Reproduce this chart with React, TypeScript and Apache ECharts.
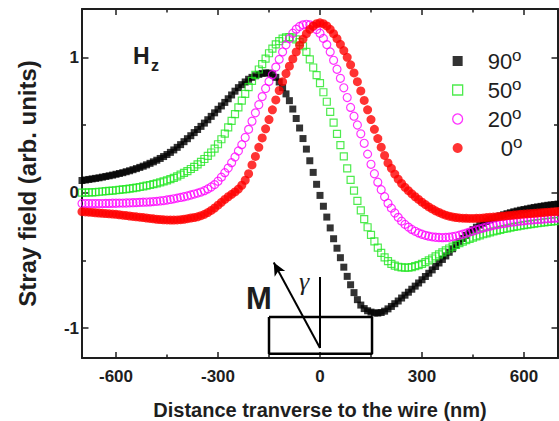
import React, { useEffect, useRef } from 'react';
import * as echarts from 'echarts';

// x grid of the measurements: -700 nm .. 700 nm, one point every 10 nm
const X_START = -700;
const X_STEP = 10;

const BLACK_90 = [
  0.090, 0.094, 0.098, 0.102, 0.106, 0.110, 0.115, 0.120, 0.125, 0.130,
  0.136, 0.142, 0.148, 0.155, 0.162, 0.170, 0.178, 0.187, 0.196, 0.206,
  0.217, 0.228, 0.240, 0.253, 0.267, 0.282, 0.298, 0.316, 0.335, 0.355,
  0.377, 0.399, 0.421, 0.444, 0.467, 0.490, 0.514, 0.539, 0.564, 0.590,
  0.616, 0.641, 0.667, 0.694, 0.722, 0.750, 0.776, 0.798, 0.818, 0.838,
  0.852, 0.864, 0.874, 0.881, 0.885, 0.884, 0.875, 0.852, 0.818, 0.776,
  0.730, 0.680, 0.618, 0.548, 0.478, 0.400, 0.322, 0.236, 0.150, 0.062,
  -0.020, -0.100, -0.180, -0.260, -0.340, -0.410, -0.480, -0.550, -0.618, -0.680,
  -0.738, -0.790, -0.830, -0.856, -0.872, -0.882, -0.888, -0.889, -0.885, -0.875,
  -0.858, -0.840, -0.820, -0.800, -0.778, -0.757, -0.735, -0.713, -0.690, -0.667,
  -0.643, -0.619, -0.595, -0.570, -0.545, -0.519, -0.493, -0.467, -0.440, -0.414,
  -0.388, -0.363, -0.338, -0.315, -0.293, -0.273, -0.255, -0.239, -0.225, -0.212,
  -0.200, -0.190, -0.180, -0.171, -0.163, -0.155, -0.148, -0.141, -0.135, -0.129,
  -0.124, -0.119, -0.114, -0.109, -0.105, -0.101, -0.097, -0.093, -0.090, -0.087,
  -0.084,
];

const GREEN_50 = [
  0.000, 0.001, 0.002, 0.003, 0.005, 0.007, 0.009, 0.011, 0.013, 0.015,
  0.018, 0.021, 0.024, 0.027, 0.030, 0.034, 0.038, 0.042, 0.047, 0.052,
  0.057, 0.063, 0.069, 0.076, 0.083, 0.091, 0.100, 0.110, 0.121, 0.133,
  0.146, 0.160, 0.175, 0.191, 0.209, 0.228, 0.249, 0.272, 0.297, 0.325,
  0.358, 0.395, 0.437, 0.482, 0.530, 0.580, 0.630, 0.680, 0.730, 0.780,
  0.826, 0.870, 0.910, 0.950, 0.990, 1.030, 1.065, 1.095, 1.120, 1.138,
  1.148, 1.150, 1.145, 1.133, 1.112, 1.082, 1.040, 0.985, 0.925, 0.868,
  0.810, 0.742, 0.672, 0.597, 0.517, 0.435, 0.352, 0.268, 0.180, 0.095,
  0.015, -0.060, -0.130, -0.195, -0.255, -0.312, -0.360, -0.405, -0.445, -0.478,
  -0.505, -0.525, -0.538, -0.547, -0.552, -0.554, -0.553, -0.549, -0.543, -0.535,
  -0.525, -0.513, -0.500, -0.486, -0.471, -0.456, -0.441, -0.426, -0.412, -0.398,
  -0.385, -0.373, -0.362, -0.351, -0.341, -0.332, -0.323, -0.315, -0.307, -0.300,
  -0.293, -0.286, -0.280, -0.274, -0.268, -0.263, -0.258, -0.253, -0.248, -0.244,
  -0.240, -0.236, -0.232, -0.228, -0.225, -0.222, -0.219, -0.216, -0.213, -0.210,
  -0.207,
];

const MAGENTA_20 = [
  -0.080, -0.080, -0.080, -0.080, -0.080, -0.080, -0.080, -0.079, -0.079, -0.078,
  -0.078, -0.077, -0.077, -0.076, -0.075, -0.074, -0.073, -0.071, -0.070, -0.069,
  -0.068, -0.066, -0.064, -0.061, -0.058, -0.054, -0.050, -0.045, -0.040, -0.035,
  -0.030, -0.024, -0.017, -0.010, -0.003, 0.005, 0.015, 0.028, 0.042, 0.060,
  0.085, 0.115, 0.148, 0.182, 0.222, 0.264, 0.308, 0.355, 0.408, 0.468,
  0.528, 0.590, 0.650, 0.710, 0.770, 0.822, 0.872, 0.928, 0.985, 1.040,
  1.092, 1.138, 1.178, 1.208, 1.228, 1.240, 1.244, 1.240, 1.228, 1.206,
  1.178, 1.140, 1.094, 1.040, 0.978, 0.912, 0.845, 0.775, 0.703, 0.630,
  0.565, 0.500, 0.435, 0.365, 0.285, 0.210, 0.140, 0.078, 0.022, -0.030,
  -0.078, -0.114, -0.150, -0.182, -0.210, -0.234, -0.254, -0.271, -0.285, -0.297,
  -0.307, -0.315, -0.321, -0.326, -0.329, -0.331, -0.332, -0.331, -0.329, -0.325,
  -0.320, -0.314, -0.307, -0.299, -0.291, -0.283, -0.275, -0.267, -0.260, -0.253,
  -0.247, -0.241, -0.236, -0.231, -0.227, -0.223, -0.219, -0.216, -0.213, -0.210,
  -0.207, -0.204, -0.202, -0.200, -0.198, -0.196, -0.194, -0.192, -0.190, -0.188,
  -0.186,
];

const RED_0 = [
  -0.140, -0.142, -0.144, -0.146, -0.148, -0.150, -0.152, -0.154, -0.156, -0.158,
  -0.160, -0.163, -0.166, -0.169, -0.172, -0.175, -0.178, -0.181, -0.184, -0.187,
  -0.190, -0.193, -0.196, -0.198, -0.200, -0.201, -0.202, -0.202, -0.201, -0.199,
  -0.196, -0.192, -0.187, -0.183, -0.178, -0.170, -0.160, -0.147, -0.131, -0.113,
  -0.092, -0.071, -0.050, -0.030, -0.012, 0.006, 0.027, 0.055, 0.092, 0.140,
  0.205, 0.268, 0.335, 0.405, 0.472, 0.540, 0.612, 0.685, 0.755, 0.820,
  0.880, 0.935, 0.988, 1.040, 1.090, 1.135, 1.175, 1.207, 1.232, 1.248,
  1.255, 1.248, 1.232, 1.207, 1.175, 1.138, 1.096, 1.050, 1.000, 0.945,
  0.885, 0.820, 0.752, 0.682, 0.612, 0.540, 0.468, 0.400, 0.336, 0.275,
  0.220, 0.180, 0.138, 0.100, 0.068, 0.040, 0.015, -0.008, -0.030, -0.050,
  -0.070, -0.088, -0.105, -0.120, -0.134, -0.146, -0.157, -0.166, -0.173, -0.179,
  -0.183, -0.186, -0.188, -0.189, -0.190, -0.190, -0.189, -0.188, -0.186, -0.184,
  -0.182, -0.180, -0.178, -0.175, -0.173, -0.170, -0.168, -0.165, -0.163, -0.160,
  -0.158, -0.156, -0.154, -0.152, -0.150, -0.148, -0.146, -0.144, -0.142, -0.140,
  -0.138,
];

const SERIES_NAMES = ['90°', '50°', '20°', '0°'];

const X_RANGE = [-700, 700];
const Y_RANGE = [-1.221, 1.357];
const X_MAJOR = [-600, -300, 0, 300, 600];
const X_MINOR = [-450, -150, 150, 450];
const Y_MAJOR = [-1, 0, 1];
const Y_MINOR = [-0.5, 0.5];

// sketch of the wire cross-section and the magnetisation, in data units
const WIRE_BOX = [[-150, -0.918], [153, -0.918], [153, -1.19], [-150, -1.19], [-150, -0.918]];
const M_AXIS = [[0, -0.622], [0, -1.147]];
const M_ARROW = [[0, -1.147], [-136, -0.515]];

const FONT = '"Liberation Sans", Arial, Helvetica, sans-serif';
const INK = '#1e1e1e';

const toPairs = (vals: number[]) => vals.map((v, i) => [X_START + i * X_STEP, v]);

function xAxisDef(position: 'bottom' | 'top', values: number[], major: boolean, withLabels: boolean): any {
  return {
    type: 'value',
    min: X_RANGE[0],
    max: X_RANGE[1],
    position,
    axisLine: { show: major, onZero: false, lineStyle: { color: INK, width: 2 } },
    axisTick: { show: true, inside: true, length: major ? 6 : 3.5, customValues: values, lineStyle: { color: INK, width: 1.5 } },
    axisLabel: withLabels
      ? { show: true, customValues: values, fontSize: 17, fontWeight: 'bold', color: INK, fontFamily: FONT, margin: 10 }
      : { show: false },
    splitLine: { show: false },
  };
}

function yAxisDef(position: 'left' | 'right', values: number[], major: boolean, withLabels: boolean): any {
  return {
    type: 'value',
    min: Y_RANGE[0],
    max: Y_RANGE[1],
    position,
    axisLine: { show: major, onZero: false, lineStyle: { color: INK, width: 2 } },
    axisTick: { show: true, inside: true, length: major ? 6.5 : 4, customValues: values, lineStyle: { color: INK, width: 1.5 } },
    axisLabel: withLabels
      ? { show: true, customValues: values, fontSize: 17, fontWeight: 'bold', color: INK, fontFamily: FONT, margin: 3 }
      : { show: false },
    splitLine: { show: false },
  };
}

export default function App() {
  const ref = useRef<HTMLDivElement>(null);

  useEffect(() => {
    if (!ref.current) return;
    const chart = echarts.init(ref.current, null, { renderer: 'svg' });

    const xMain = xAxisDef('bottom', X_MAJOR, true, true);
    xMain.name = 'Distance tranverse to the wire (nm)';
    xMain.nameLocation = 'middle';
    xMain.nameGap = 42;
    xMain.nameTextStyle = { fontSize: 20, fontWeight: 'bold', color: INK, fontFamily: FONT };

    const yMain = yAxisDef('left', Y_MAJOR, true, true);
    yMain.name = 'Stray field (arb. units)';
    yMain.nameLocation = 'middle';
    yMain.nameRotate = 90;
    yMain.nameGap = 43;
    yMain.nameTextStyle = { fontSize: 24, fontWeight: 'bold', color: INK, fontFamily: FONT };

    const legendText = (name: string) => {
      const num = name.replace('°', '');
      return num.length === 1 ? `{g2|}{n|${num}}{s|o}` : `{g|}{n|${num}}{s|o}`;
    };

    const option: any = {
      animation: false,
      backgroundColor: '#ffffff',
      textStyle: { fontFamily: FONT },
      grid: { left: 82, right: 1, top: 9, bottom: 63, containLabel: false, outerBoundsMode: 'none' },
      xAxis: [
        xMain,
        xAxisDef('bottom', X_MINOR, false, false),
        xAxisDef('top', X_MAJOR, true, false),
        xAxisDef('top', X_MINOR, false, false),
      ],
      yAxis: [
        yMain,
        yAxisDef('left', Y_MINOR, false, false),
        yAxisDef('right', Y_MAJOR, true, false),
        yAxisDef('right', Y_MINOR, false, false),
      ],
      legend: {
        show: true,
        orient: 'vertical',
        left: 447,
        top: 42,
        itemWidth: 10,
        itemHeight: 10,
        itemGap: 4,
        selectedMode: false,
        formatter: legendText,
        textStyle: {
          fontFamily: FONT,
          rich: {
            g: { width: 20, lineHeight: 28 },
            g2: { width: 33, lineHeight: 28 },
            n: { fontSize: 22, color: INK, fontFamily: FONT, lineHeight: 28 },
            s: { fontSize: 17, color: INK, fontFamily: FONT, verticalAlign: 'top', lineHeight: 17 },
          },
        },
        data: [
          { name: SERIES_NAMES[0], icon: 'rect', itemStyle: { color: '#000000', borderWidth: 0 } },
          { name: SERIES_NAMES[1], icon: 'rect', itemStyle: { color: 'rgba(0,0,0,0)', borderColor: '#22e622', borderWidth: 1.3 } },
          { name: SERIES_NAMES[2], icon: 'circle', itemStyle: { color: 'rgba(0,0,0,0)', borderColor: '#ff00ff', borderWidth: 1.3 } },
          { name: SERIES_NAMES[3], icon: 'circle', itemStyle: { color: '#ff0000', borderWidth: 0 } },
        ],
      },
      series: [
        {
          name: SERIES_NAMES[0],
          type: 'scatter',
          data: toPairs(BLACK_90),
          symbol: 'rect',
          symbolSize: 7,
          itemStyle: { color: '#000000' },
          silent: true,
        },
        {
          name: SERIES_NAMES[1],
          type: 'scatter',
          data: toPairs(GREEN_50),
          symbol: 'rect',
          symbolSize: 7,
          itemStyle: { color: 'rgba(0,0,0,0)', borderColor: '#22e622', borderWidth: 1.2 },
          silent: true,
        },
        {
          name: SERIES_NAMES[2],
          type: 'scatter',
          data: toPairs(MAGENTA_20),
          symbol: 'circle',
          symbolSize: 8,
          itemStyle: { color: 'rgba(0,0,0,0)', borderColor: '#ff00ff', borderWidth: 1.2 },
          silent: true,
        },
        {
          name: SERIES_NAMES[3],
          type: 'scatter',
          data: toPairs(RED_0),
          symbol: 'circle',
          symbolSize: 9,
          itemStyle: { color: '#ff0000' },
          silent: true,
        },
        {
          name: 'wire',
          type: 'line',
          data: WIRE_BOX,
          showSymbol: false,
          symbol: 'none',
          lineStyle: { color: '#000000', width: 2.5 },
          silent: true,
          z: 3,
        },
        {
          name: 'axis',
          type: 'line',
          data: M_AXIS,
          showSymbol: false,
          symbol: 'none',
          lineStyle: { color: '#000000', width: 2 },
          silent: true,
          z: 3,
          markLine: {
            silent: true,
            symbol: ['none', 'arrow'],
            symbolSize: [9, 13],
            label: { show: false },
            lineStyle: { color: '#000000', width: 2, type: 'solid' },
            data: [[{ coord: M_ARROW[0] }, { coord: M_ARROW[1] }]],
          },
        },
      ],
      graphic: [
        { type: 'text', x: 133, y: 44, style: { text: 'H', fontSize: 23, fontWeight: 'bold', fontFamily: FONT, fill: INK, verticalAlign: 'top' } },
        { type: 'text', x: 151, y: 57, style: { text: 'z', fontSize: 16, fontWeight: 'bold', fontFamily: FONT, fill: INK, verticalAlign: 'top' } },
        { type: 'text', x: 246, y: 283, style: { text: 'M', fontSize: 31, fontWeight: 'bold', fontFamily: FONT, fill: INK, verticalAlign: 'top' } },
        { type: 'text', x: 299, y: 268, style: { text: 'γ', fontSize: 26, fontStyle: 'italic', fontFamily: '"Liberation Serif", "Times New Roman", serif', fill: INK, verticalAlign: 'top' } },
      ],
    };

    chart.setOption(option);
    return () => chart.dispose();
  }, []);

  return (
    <div
      ref={ref}
      style={{ position: 'fixed', left: 0, top: 0, width: 559, height: 421, background: '#ffffff' }}
    />
  );
}
